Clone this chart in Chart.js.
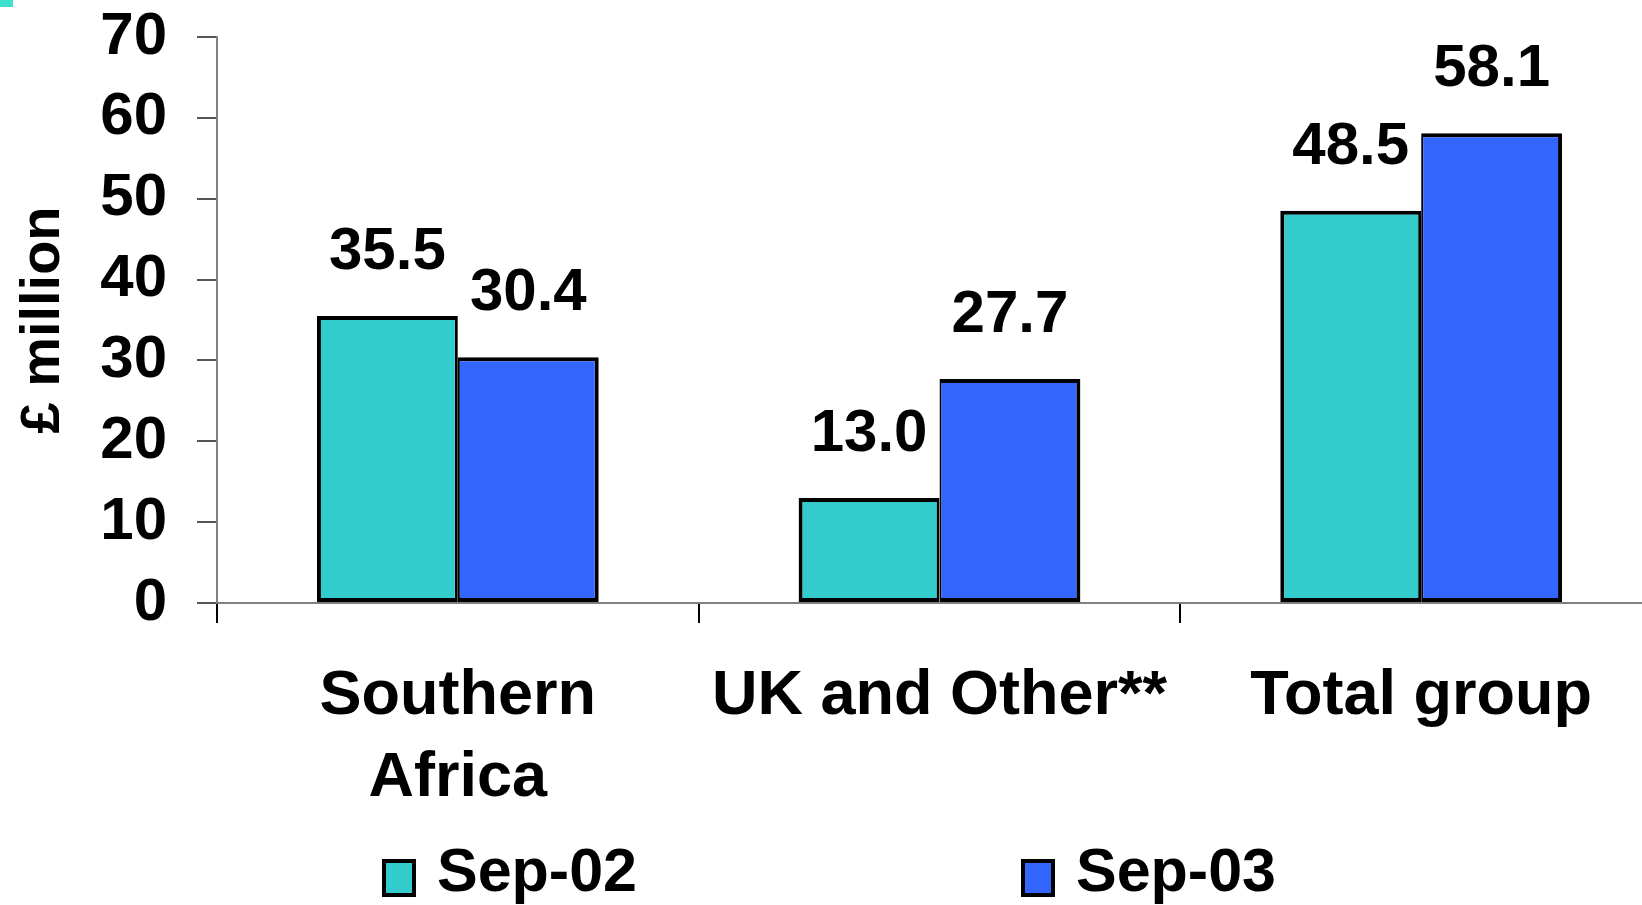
<!DOCTYPE html>
<html>
<head>
<meta charset="utf-8">
<script src="https://cdn.jsdelivr.net/npm/chart.js@4/dist/chart.umd.min.js"></script>
<style>
  html, body { margin: 0; padding: 0; background: #fff; overflow: hidden; width: 1642px; height: 905px; }
  #wrap { position: relative; width: 1642px; height: 905px; overflow: hidden; }
  #chart { position: absolute; left: 0; top: 0; }
  .corner { position: absolute; left: 0; top: 0; width: 13px; height: 7px; background: #40E0D0; }
  .lg-box { position: absolute; top: 859px; width: 34px; height: 38px; box-sizing: border-box; border: 4px solid #000; }
  .lg-text { position: absolute; top: 840px; font: bold 61px 'Liberation Sans', Arial, sans-serif; line-height: 61px; color: #000; white-space: nowrap; }
</style>
</head>
<body>
<div id="wrap">
  <canvas id="chart" width="1700" height="905"></canvas>
  <div class="corner"></div>
</div>
<script>
// Profit by region, £ million
const categories = [['Southern', 'Africa'], 'UK and Other**', 'Total group'];
const seriesNames = ['Sep-02', 'Sep-03'];
const sep02 = [35.5, 13.0, 48.5];
const sep03 = [30.4, 27.7, 58.1];
const seriesColors = ['#33CCCC', '#3366FF'];
const yMin = 0, yMax = 70, yStep = 10;

const FONT = "'Liberation Sans', Arial, sans-serif";

// value labels printed above each bar
const valueLabels = {
  id: 'valueLabels',
  afterDatasetsDraw(chart) {
    const ctx = chart.ctx;
    ctx.save();
    ctx.font = `bold 60px ${FONT}`;
    ctx.fillStyle = '#000';
    ctx.textAlign = 'center';
    ctx.textBaseline = 'alphabetic';
    chart.data.datasets.forEach((ds, i) => {
      chart.getDatasetMeta(i).data.forEach((bar, j) => {
        ctx.fillText(ds.data[j].toFixed(1), bar.x, bar.y - 47);
      });
    });
    ctx.restore();
  }
};

const chart = new Chart(document.getElementById('chart'), {
  type: 'bar',
  data: {
    labels: categories,
    datasets: [
      {
        label: seriesNames[0], data: sep02, backgroundColor: seriesColors[0],
        borderColor: '#000', borderWidth: { top: 4, left: 4, bottom: 4, right: 3 }, borderSkipped: false
      },
      {
        label: seriesNames[1], data: sep03, backgroundColor: seriesColors[1],
        borderColor: '#000', borderWidth: { top: 4, left: 2, bottom: 4, right: 4 }, borderSkipped: false
      }
    ]
  },
  options: {
    responsive: false,
    animation: false,
    datasets: { bar: { categoryPercentage: 0.585, barPercentage: 1.0 } },
    layout: { padding: { top: 37, right: 38, left: 0, bottom: 0 } },
    plugins: { legend: { display: false }, tooltip: { enabled: false } },
    scales: {
      x: {
        grid: { offset: true, drawOnChartArea: false, drawTicks: true, tickLength: 20, color: '#000', lineWidth: 2 },
        border: { color: '#808080', width: 2 },
        ticks: {
          font: { family: FONT, size: 63, weight: 'bold', lineHeight: 1.3 },
          color: '#000', padding: 33, maxRotation: 0, minRotation: 0, autoSkip: false
        },
        afterFit(s) { s.height = 302; s.paddingLeft = 0; s.paddingRight = 0; }
      },
      y: {
        min: yMin, max: yMax,
        ticks: { stepSize: yStep, font: { family: FONT, size: 60, weight: 'bold' }, color: '#000', padding: 30 },
        grid: { drawOnChartArea: false, tickLength: 20, color: '#555', lineWidth: 2 },
        border: { color: '#808080', width: 2 },
        title: {
          display: true, text: '£ million', color: '#000',
          font: { family: FONT, size: 56, weight: 'bold' }, padding: { top: 10, bottom: 0 }
        },
        afterFit(s) { s.width = 217; s.paddingTop = 0; s.paddingBottom = 0; }
      }
    }
  },
  plugins: [valueLabels]
});

// legend row beneath the chart
const legendPos = [{ box: 382, text: 437 }, { box: 1021, text: 1076 }];
const wrap = document.getElementById('wrap');
chart.data.datasets.forEach((ds, i) => {
  const box = document.createElement('div');
  box.className = 'lg-box';
  box.style.left = legendPos[i].box + 'px';
  box.style.background = ds.backgroundColor;
  wrap.appendChild(box);
  const txt = document.createElement('div');
  txt.className = 'lg-text';
  txt.style.left = legendPos[i].text + 'px';
  txt.textContent = ds.label;
  wrap.appendChild(txt);
});
</script>
</body>
</html>
